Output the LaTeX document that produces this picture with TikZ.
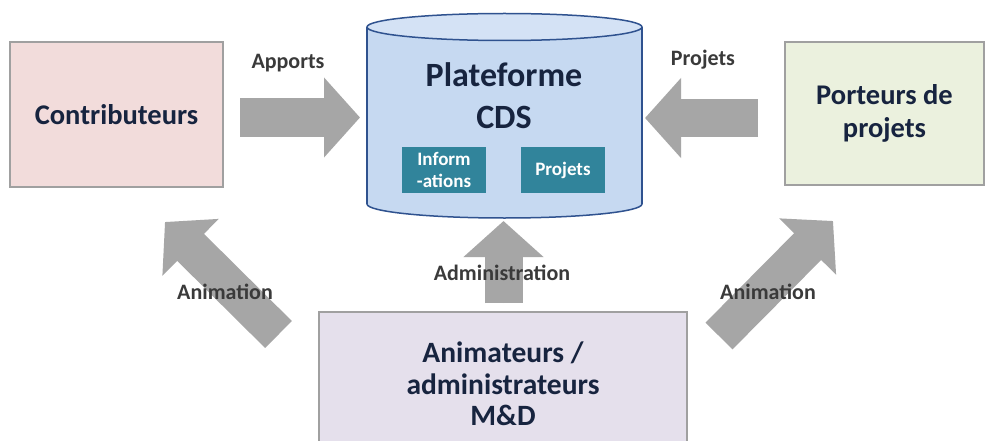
\documentclass[tikz,border=0pt]{standalone}
\usepackage{fontspec}
\setmainfont{Carlito}
\usetikzlibrary{arrows.meta}
\definecolor{navytext}{HTML}{17243F}
\definecolor{lbltext}{HTML}{3A3A3A}
\definecolor{arrowgray}{HTML}{A6A6A6}
\definecolor{boxborder}{HTML}{A0A0A0}
\definecolor{contribfill}{HTML}{F2DCDB}
\definecolor{porteurfill}{HTML}{EBF1DE}
\definecolor{animfill}{HTML}{E5E0EC}
\definecolor{cylfill}{HTML}{C6D9F1}
\definecolor{cyltop}{HTML}{D4E2F5}
\definecolor{cylborder}{HTML}{2F528F}
\definecolor{tealbox}{HTML}{31849B}
\begin{document}
\begin{tikzpicture}[x=1pt,y=-1pt,
  actorbox/.style={draw=boxborder, line width=1.8pt, font=\fontsize{28.5}{33}\selectfont\bfseries, text=navytext, align=center},
  innerbox/.style={fill=tealbox, draw=none, minimum width=84pt, minimum height=46pt, font=\fontsize{19}{21.5}\selectfont\bfseries, text=white, align=center, inner sep=0pt},
  biglabel/.style={font=\fontsize{22}{26}\selectfont\bfseries, text=lbltext},
  fatarrow/.style={draw=arrowgray, line width=38pt, -{Triangle[width=78pt,length=36pt]}, fill=arrowgray}
]
\useasboundingbox (0,0) rectangle (987,441);
\fill[white] (0,0) rectangle (987,441);

% actor boxes
\node[actorbox, fill=contribfill, minimum width=213pt, minimum height=145pt] (contrib) at (116.5,114.5) {Contributeurs};
\node[actorbox, fill=porteurfill, minimum width=199pt, minimum height=143pt] (porteurs) at (884.5,113.5) {Porteurs de\\projets};
\node[actorbox, fill=animfill, minimum width=368pt, minimum height=150pt, text depth=0pt] (anim) at (503,387) {};
\node[font=\fontsize{29.5}{31.5}\selectfont\bfseries, text=navytext, align=center] (animtext) at (503,384) {Animateurs /\\administrateurs\\M\&D};

% cylinder (Plateforme CDS)
\fill[cylfill, draw=cylborder, line width=1.5pt] (504.5,204) ellipse[x radius=137.5pt, y radius=14pt];
\fill[cylfill] (367,27) rectangle (642,204);
\draw[cylborder, line width=1.5pt] (367,27) -- (367,204) (642,27) -- (642,204);
\fill[cyltop, draw=cylborder, line width=1.5pt] (504.5,27) ellipse[x radius=137.5pt, y radius=13.5pt];
\node[font=\fontsize{34}{42}\selectfont\bfseries, text=navytext, align=center] (cds) at (504,96) {Plateforme\\CDS};
\node[innerbox] (infos) at (444,170) {Inform\\-ations};
\node[innerbox] (projbox) at (563,170) {Projets};

% arrow end points
\coordinate (apS) at (240,117.5);
\coordinate (apE) at (360,117.5);
\coordinate (prS) at (758,118);
\coordinate (prE) at (645,118);
\coordinate (adS) at (503.5,303);
\coordinate (adE) at (503.5,221);
\coordinate (alS) at (278.5,334.5);
\coordinate (alE) at (165,222);
\coordinate (arS) at (719,336);
\coordinate (arE) at (833,221);

\draw[fatarrow] (apS) -- (apE);
\draw[fatarrow] (prS) -- (prE);
\draw[fatarrow] (adS) -- (adE);
\draw[fatarrow] (alS) -- (alE);
\draw[fatarrow] (arS) -- (arE);

% labels
\node[biglabel] (lapports) at (288,63) {Apports};
\node[biglabel] (lprojets) at (703,60) {Projets};
\node[biglabel] (ladmin) at (502,273) {Administration};
\node[biglabel] (lanimL) at (225,292) {Animation};
\node[biglabel] (lanimR) at (768,292) {Animation};
\end{tikzpicture}
\end{document}
